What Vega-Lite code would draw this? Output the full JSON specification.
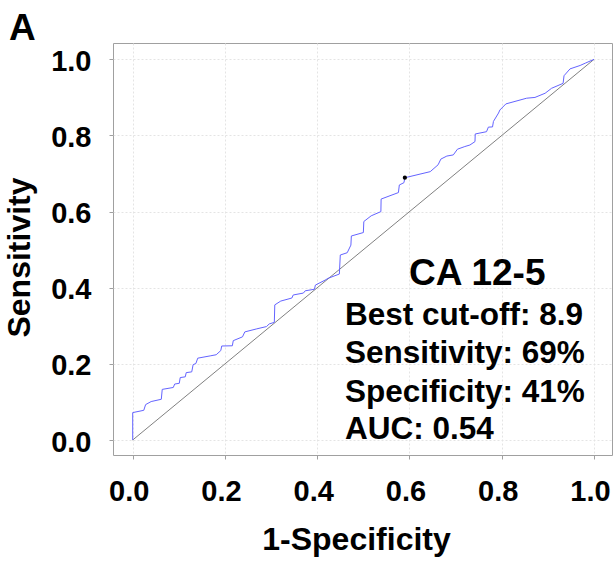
{
  "$schema": "https://vega.github.io/schema/vega-lite/v6.json",
  "autosize": "none",
  "width": 499,
  "height": 412,
  "padding": {"left": 113, "top": 43, "right": 1, "bottom": 107},
  "background": "white",
  "title": {"text": "A", "anchor": "start", "frame": "group", "fontSize": 37, "fontWeight": "bold", "color": "black", "baseline": "alphabetic", "offset": 6, "dx": -104, "dy": 40},
  "config": {
    "font": "Liberation Sans",
    "view": {"stroke": "#a0a0a0", "strokeWidth": 1},
    "axis": {
      "domain": false,
      "grid": true,
      "gridColor": "#e4e4e4",
      "gridDash": [2, 2],
      "gridWidth": 1,
      "tickColor": "#a0a0a0",
      "tickSize": 4,
      "labelFontSize": 29,
      "labelFontWeight": "bold",
      "labelColor": "black",
      "labelFlush": false,
      "labelOverlap": false,
      "titleFontSize": 32,
      "titleFontWeight": "bold",
      "titleColor": "black",
      "titleBaseline": "alphabetic"
    }
  },
  "layer": [
    {
      "data": {"values": [{"fpr": 0, "tpr": 0}, {"fpr": 1, "tpr": 1}]},
      "mark": {"type": "line", "color": "#808080", "strokeWidth": 1},
      "encoding": {
        "x": {"field": "fpr", "type": "quantitative", "scale": {"domain": [-0.0427, 1.039], "nice": false, "zero": false},
          "axis": {"values": [0, 0.2, 0.4, 0.6, 0.8, 1], "format": ".1f", "labelPadding": 18, "labelOffset": -4, "title": "1-Specificity", "titleX": 243, "titleY": 94}},
        "y": {"field": "tpr", "type": "quantitative", "scale": {"domain": [-0.0394, 1.043], "nice": false, "zero": false},
          "axis": {"values": [0, 0.2, 0.4, 0.6, 0.8, 1], "format": ".1f", "labelPadding": 18, "labelOffset": 2, "title": "Sensitivity", "titleX": -84, "titleY": 214, "titleAngle": 270}}
      }
    },
    {
      "data": {"values": [
        {"fpr": 0, "tpr": 0}, {"fpr": 0, "tpr": 0.072}, {"fpr": 0.024, "tpr": 0.078}, {"fpr": 0.028, "tpr": 0.093},
        {"fpr": 0.040, "tpr": 0.101}, {"fpr": 0.062, "tpr": 0.107}, {"fpr": 0.064, "tpr": 0.133}, {"fpr": 0.088, "tpr": 0.138},
        {"fpr": 0.091, "tpr": 0.147}, {"fpr": 0.101, "tpr": 0.149}, {"fpr": 0.103, "tpr": 0.164}, {"fpr": 0.114, "tpr": 0.166},
        {"fpr": 0.116, "tpr": 0.177}, {"fpr": 0.128, "tpr": 0.179}, {"fpr": 0.131, "tpr": 0.198}, {"fpr": 0.137, "tpr": 0.201},
        {"fpr": 0.141, "tpr": 0.215}, {"fpr": 0.168, "tpr": 0.221}, {"fpr": 0.181, "tpr": 0.224}, {"fpr": 0.191, "tpr": 0.235},
        {"fpr": 0.193, "tpr": 0.247}, {"fpr": 0.216, "tpr": 0.2475}, {"fpr": 0.218, "tpr": 0.261}, {"fpr": 0.238, "tpr": 0.271},
        {"fpr": 0.243, "tpr": 0.284}, {"fpr": 0.269, "tpr": 0.292}, {"fpr": 0.290, "tpr": 0.298}, {"fpr": 0.296, "tpr": 0.305},
        {"fpr": 0.307, "tpr": 0.309}, {"fpr": 0.308, "tpr": 0.355}, {"fpr": 0.321, "tpr": 0.365}, {"fpr": 0.345, "tpr": 0.373},
        {"fpr": 0.348, "tpr": 0.381}, {"fpr": 0.370, "tpr": 0.386}, {"fpr": 0.374, "tpr": 0.392}, {"fpr": 0.394, "tpr": 0.396},
        {"fpr": 0.396, "tpr": 0.407}, {"fpr": 0.417, "tpr": 0.420}, {"fpr": 0.424, "tpr": 0.425}, {"fpr": 0.448, "tpr": 0.436},
        {"fpr": 0.450, "tpr": 0.486}, {"fpr": 0.465, "tpr": 0.492}, {"fpr": 0.473, "tpr": 0.512}, {"fpr": 0.474, "tpr": 0.536},
        {"fpr": 0.500, "tpr": 0.545}, {"fpr": 0.501, "tpr": 0.574}, {"fpr": 0.517, "tpr": 0.589}, {"fpr": 0.538, "tpr": 0.600},
        {"fpr": 0.5385, "tpr": 0.633}, {"fpr": 0.576, "tpr": 0.650}, {"fpr": 0.578, "tpr": 0.670}, {"fpr": 0.588, "tpr": 0.676},
        {"fpr": 0.590, "tpr": 0.689}, {"fpr": 0.645, "tpr": 0.705}, {"fpr": 0.662, "tpr": 0.723}, {"fpr": 0.668, "tpr": 0.738},
        {"fpr": 0.681, "tpr": 0.746}, {"fpr": 0.695, "tpr": 0.749}, {"fpr": 0.704, "tpr": 0.764}, {"fpr": 0.720, "tpr": 0.771},
        {"fpr": 0.731, "tpr": 0.775}, {"fpr": 0.742, "tpr": 0.784}, {"fpr": 0.7425, "tpr": 0.804}, {"fpr": 0.767, "tpr": 0.810},
        {"fpr": 0.771, "tpr": 0.822}, {"fpr": 0.780, "tpr": 0.8225}, {"fpr": 0.782, "tpr": 0.837}, {"fpr": 0.793, "tpr": 0.859},
        {"fpr": 0.796, "tpr": 0.867}, {"fpr": 0.809, "tpr": 0.883}, {"fpr": 0.854, "tpr": 0.898}, {"fpr": 0.872, "tpr": 0.900},
        {"fpr": 0.894, "tpr": 0.911}, {"fpr": 0.908, "tpr": 0.924}, {"fpr": 0.933, "tpr": 0.937}, {"fpr": 0.935, "tpr": 0.957},
        {"fpr": 0.948, "tpr": 0.975}, {"fpr": 0.970, "tpr": 0.984}, {"fpr": 0.981, "tpr": 0.990}, {"fpr": 1, "tpr": 1}
      ]},
      "mark": {"type": "line", "color": "#6464ff", "strokeWidth": 1},
      "encoding": {
        "x": {"field": "fpr", "type": "quantitative"},
        "y": {"field": "tpr", "type": "quantitative"},
        "order": [{"field": "fpr", "type": "quantitative"}, {"field": "tpr", "type": "quantitative"}]
      }
    },
    {
      "data": {"values": [{"fpr": 0.59, "tpr": 0.689}]},
      "mark": {"type": "point", "filled": true, "color": "black", "size": 18, "opacity": 1},
      "encoding": {
        "x": {"field": "fpr", "type": "quantitative"},
        "y": {"field": "tpr", "type": "quantitative"}
      }
    },
    {
      "data": {"values": [{"label": "CA 12-5"}]},
      "mark": {"type": "text", "fontSize": 37, "fontWeight": "bold", "color": "black", "align": "center", "baseline": "alphabetic"},
      "encoding": {"x": {"datum": 0.747}, "y": {"datum": 0.407}, "text": {"field": "label"}}
    },
    {
      "data": {"values": [{"label": "Best cut-off: 8.9"}]},
      "mark": {"type": "text", "fontSize": 31.5, "fontWeight": "bold", "color": "black", "align": "left", "baseline": "alphabetic"},
      "encoding": {"x": {"datum": 0.46}, "y": {"datum": 0.302}, "text": {"field": "label"}}
    },
    {
      "data": {"values": [{"label": "Sensitivity: 69%"}]},
      "mark": {"type": "text", "fontSize": 31.5, "fontWeight": "bold", "color": "black", "align": "left", "baseline": "alphabetic"},
      "encoding": {"x": {"datum": 0.46}, "y": {"datum": 0.2016}, "text": {"field": "label"}}
    },
    {
      "data": {"values": [{"label": "Specificity: 41%"}]},
      "mark": {"type": "text", "fontSize": 31.5, "fontWeight": "bold", "color": "black", "align": "left", "baseline": "alphabetic"},
      "encoding": {"x": {"datum": 0.46}, "y": {"datum": 0.1007}, "text": {"field": "label"}}
    },
    {
      "data": {"values": [{"label": "AUC: 0.54"}]},
      "mark": {"type": "text", "fontSize": 31.5, "fontWeight": "bold", "color": "black", "align": "left", "baseline": "alphabetic"},
      "encoding": {"x": {"datum": 0.46}, "y": {"datum": 0.0018}, "text": {"field": "label"}}
    }
  ]
}
